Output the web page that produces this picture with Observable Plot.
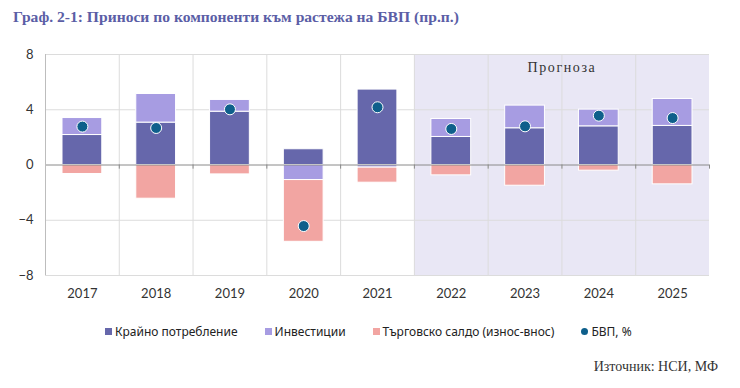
<!DOCTYPE html>
<html><head><meta charset="utf-8">
<script src="https://cdn.jsdelivr.net/npm/d3@7"></script>
<script src="https://cdn.jsdelivr.net/npm/@observablehq/plot@0.6"></script>
<style>
body{margin:0;width:740px;height:388px;background:#fff;position:relative;overflow:hidden}
#title{position:absolute;left:13px;top:8px;font:bold 15.6px "Liberation Serif",serif;color:#5b5ea6;white-space:nowrap}
#chart{position:absolute;left:0;top:40px}
#chart .forecast text{letter-spacing:1.6px}
#legend{position:absolute;top:323px;left:105px;font:12px "Noto Sans",sans-serif;color:#222;display:flex;gap:27px;white-space:nowrap}
#legend .it{display:flex;align-items:center;gap:3px}
#legend .sw{width:7px;height:7px;display:inline-block}
#legend .dt{border-radius:50%}
#source{position:absolute;right:22px;top:359px;font:14px "Liberation Serif",serif;color:#333;white-space:nowrap;text-align:right}
</style></head>
<body>
<div id="title"></div>
<div id="chart"></div>
<div id="legend"></div>
<div id="source"></div>
<script>
const titleText = "Граф. 2-1: Приноси по компоненти към растежа на БВП (пр.п.)";
const sourceText = "Източник: НСИ, МФ";
const forecastLabel = "Прогноза";
const years = ["2017","2018","2019","2020","2021","2022","2023","2024","2025"];
const forecastYears = ["2022","2023","2024","2025"];
const components = ["Крайно потребление","Инвестиции","Търговско салдо (износ-внос)"];
const gdpLabel = "БВП, %";
const consumption = [2.17,3.07,3.86,1.14,5.46,2.03,2.66,2.80,2.83];
const investment  = [1.23,2.07,0.85,-1.09,-0.19,1.30,1.64,1.21,1.95];
const trade       = [-0.65,-2.44,-0.68,-4.47,-1.09,-0.75,-1.50,-0.41,-1.40];
const gdp         = [2.78,2.68,4.03,-4.42,4.18,2.61,2.80,3.57,3.40];
const yTicks = [-8,-4,0,4,8];
const colors = ["#6667ab","#a79ce2","#f2a5a2"];
const gdpColor = "#0e5f8b";

const W = 740, H = 270, ML = 45, MR = 31, MT = 14, MB = 35;
const step = (W - ML - MR) / years.length;

const rows = years.flatMap((yr, i) => [
  {year: yr, comp: components[0], value: consumption[i]},
  {year: yr, comp: components[1], value: investment[i]},
  {year: yr, comp: components[2], value: trade[i]}
]);
const gdpRows = years.map((yr, i) => ({year: yr, value: gdp[i]}));

const chart = Plot.plot({
  width: W, height: H,
  marginLeft: ML, marginRight: MR, marginTop: MT, marginBottom: MB,
  style: {fontFamily: "Lato, 'Noto Sans', sans-serif", fontSize: "13px", color: "#333", background: "transparent"},
  x: {type: "band", domain: years, padding: 0, round: false, label: null, tickSize: 0, tickPadding: 13},
  y: {domain: [-8, 8], ticks: yTicks, label: null, tickSize: 0, tickPadding: 12},
  color: {domain: components, range: colors},
  marks: [
    Plot.barY(forecastYears, {x: d => d, y1: -8, y2: 8, fill: "#e9e7f5", shapeRendering: "crispEdges"}),
    Plot.ruleY(yTicks.filter(t => t !== 0), {stroke: "#dcdcdc"}),
    Plot.ruleX(years, {x: d => d, dx: -step / 2, y1: -8, y2: 8, stroke: "#dcdcdc"}),
    Plot.barY(rows, Plot.stackY({x: "year", y: "value", fill: "comp", insetLeft: 17, insetRight: 17, stroke: "white", strokeWidth: 1})),
    Plot.ruleY([0], {stroke: "#8a8a8a"}),
    Plot.ruleX(years, {x: d => d, dx: -step / 2, y1: 0, y2: -0.3, stroke: "#8a8a8a"}),
    Plot.ruleX([years[years.length - 1]], {x: d => d, dx: step / 2, y1: 0, y2: -0.3, stroke: "#8a8a8a"}),
    Plot.ruleX([years[0]], {x: d => d, dx: -step / 2, y1: -8, y2: 8, stroke: "#bdbdbd"}),
    Plot.dot(gdpRows, {x: "year", y: "value", r: 5.5, fill: gdpColor, stroke: "white", strokeWidth: 1}),
    Plot.text([forecastLabel], {x: () => forecastYears[2], dx: -step / 2, y: 7.05, text: d => d,
      fontFamily: "'Liberation Serif', serif", fontSize: 14, fill: "#333", className: "forecast"})
  ]
});
document.getElementById("chart").appendChild(chart);
document.getElementById("title").textContent = titleText;
document.getElementById("source").textContent = sourceText;

const legend = document.getElementById("legend");
components.forEach((c, i) => {
  const it = document.createElement("div"); it.className = "it";
  it.innerHTML = `<span class="sw" style="background:${colors[i]}"></span><span></span>`;
  it.lastChild.textContent = c;
  legend.appendChild(it);
});
const g = document.createElement("div"); g.className = "it";
g.innerHTML = `<span class="sw dt" style="background:${gdpColor}"></span><span></span>`;
g.lastChild.textContent = gdpLabel;
legend.appendChild(g);
</script>
</body></html>
